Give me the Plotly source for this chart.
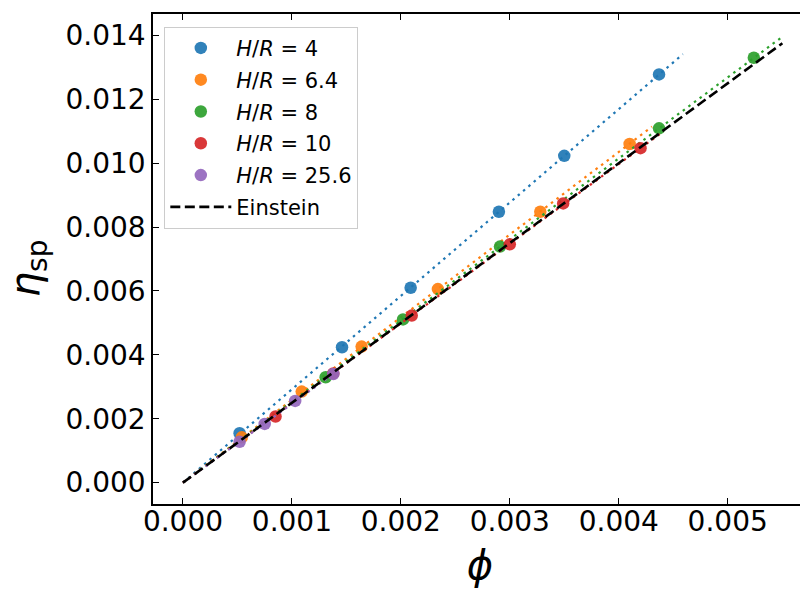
import numpy as np
import plotly.graph_objects as go

# ---- data ----
phi_4 = [0.00052, 0.00146, 0.00209, 0.00290, 0.00350, 0.00437]
eta_4 = [0.00155, 0.00424, 0.00610, 0.00848, 0.01023, 0.01278]

phi_64 = [0.00054, 0.00109, 0.00164, 0.00234, 0.00328, 0.00410]
eta_64 = [0.00142, 0.00285, 0.00426, 0.00606, 0.00848, 0.01060]

phi_8 = [0.00131, 0.00202, 0.00291, 0.00437, 0.00524]
eta_8 = [0.00330, 0.00511, 0.00739, 0.01109, 0.01330]

phi_10 = [0.00085, 0.00138, 0.00210, 0.00300, 0.00349, 0.00420]
eta_10 = [0.00207, 0.00342, 0.00523, 0.00746, 0.00874, 0.01047]

phi_256 = [0.00052, 0.00075, 0.00103, 0.00138]
eta_256 = [0.00128, 0.00184, 0.00256, 0.00340]

series_names = ["4", "6.4", "8", "10", "25.6"]
series_phi = [phi_4, phi_64, phi_8, phi_10, phi_256]
series_eta = [eta_4, eta_64, eta_8, eta_10, eta_256]
colors = ["#1f77b4", "#ff7f0e", "#2ca02c", "#d62728", "#9467bd"]

einstein_coef = 2.5
x_ticks = [0.000, 0.001, 0.002, 0.003, 0.004, 0.005]
y_ticks = [0.000, 0.002, 0.004, 0.006, 0.008, 0.010, 0.012, 0.014]

FONT = "DejaVu Sans"
fig = go.Figure()

all_phi = []
for i, (name, ph, et, c) in enumerate(zip(series_names, series_phi, series_eta, colors)):
    ph = np.array(ph); et = np.array(et)
    all_phi.extend(ph)
    fig.add_trace(go.Scatter(
        x=ph, y=et, mode="markers",
        marker=dict(color=c, size=12.5, opacity=0.92, line=dict(width=0)),
        name=f"<i>H</i>/<i>R</i> = {name}", legendgroup=f"g{i}",
    ))
    slope = float(np.sum(ph * et) / np.sum(ph * ph))
    xf = np.linspace(0, 1.05 * ph.max(), 50)
    fig.add_trace(go.Scatter(
        x=xf, y=slope * xf, mode="lines",
        line=dict(color=c, width=2.2, dash="2.5px,4.5px"),
        showlegend=False, hoverinfo="skip", legendgroup=f"g{i}",
    ))

xe = np.array([0.0, 1.05 * max(all_phi)])
fig.add_trace(go.Scatter(
    x=xe, y=einstein_coef * xe, mode="lines",
    line=dict(color="black", width=2.6, dash="10px,4.5px"),
    name="Einstein", legendgroup="einstein",
))

axis_common = dict(
    showline=True, linecolor="black", linewidth=1.5, mirror="ticks",
    ticks="inside", ticklen=6, tickwidth=1.3, tickcolor="black",
    showgrid=False, zeroline=False,
    tickfont=dict(family=FONT, size=28, color="black"),
    automargin=False,
)

# page body has an 8px margin, so the figure is drawn 8px smaller
fig.update_layout(
    width=800, height=582,
    margin=dict(l=145, r=1, t=6, b=86),
    paper_bgcolor="white", plot_bgcolor="white",
    font=dict(family=FONT, color="black"),
    xaxis=dict(
        range=[-0.000275, 0.005728],
        tickvals=x_ticks, tickformat=".3f",
        title=dict(text="<i>ϕ</i>", font=dict(family=FONT, size=40), standoff=14),
        ticklabelstandoff=-8,
        **axis_common,
    ),
    yaxis=dict(
        range=[-0.000668, 0.01467],
        tickvals=y_ticks, tickformat=".3f",
        ticklabelstandoff=0,
        **axis_common,
    ),
    legend=dict(
        x=0.0173, y=0.974, xanchor="left", yanchor="top",
        font=dict(family=FONT, size=21, color="black"),
        bgcolor="rgba(255,255,255,0.8)", bordercolor="#cccccc", borderwidth=1,
        itemwidth=61, tracegroupgap=1.5,
    ),
    showlegend=True,
    annotations=[dict(
        text="<i>η</i><sub>sp</sub>", textangle=-90,
        xref="paper", yref="paper", x=-0.192, y=0.482,
        xanchor="center", yanchor="middle", showarrow=False,
        font=dict(family=FONT, size=40, color="black"),
    )],
)

fig.write_html("out.html")
